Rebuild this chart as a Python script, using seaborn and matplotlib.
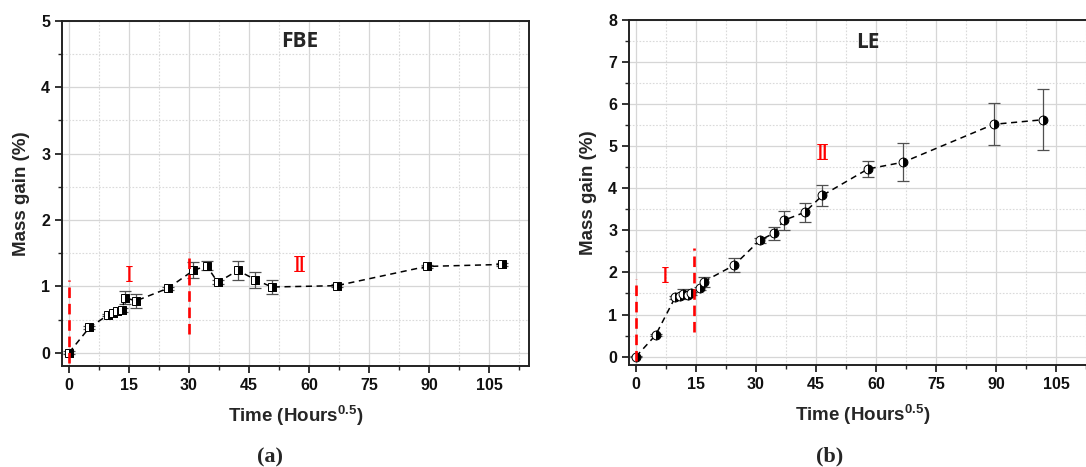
import numpy as np
import pandas as pd
import seaborn as sns
import matplotlib.pyplot as plt
from matplotlib.ticker import MultipleLocator

# FBE data (time in hours^0.5, mass gain in %)
fbe_time = [0, 5.1, 9.8, 11.1, 12.1, 13.2, 14.0, 16.7, 24.7, 31.1, 34.4, 37.2, 42.2, 46.6, 50.7, 66.9, 89.4, 108.3]
fbe_gain = [0, 0.38, 0.57, 0.60, 0.63, 0.64, 0.83, 0.78, 0.97, 1.24, 1.31, 1.06, 1.24, 1.10, 0.99, 1.01, 1.30, 1.33]
fbe_err = [0.02, 0.02, 0.02, 0.02, 0.02, 0.03, 0.10, 0.11, 0.02, 0.12, 0.07, 0.03, 0.14, 0.12, 0.10, 0.02, 0.02, 0.02]

# LE data
le_time = [0, 4.9, 9.8, 10.9, 11.8, 12.9, 13.8, 16.0, 16.9, 24.5, 30.9, 34.4, 37.0, 42.2, 46.6, 58.0, 66.8, 89.4, 101.8]
le_gain = [0, 0.51, 1.41, 1.44, 1.48, 1.46, 1.50, 1.62, 1.78, 2.17, 2.76, 2.93, 3.24, 3.43, 3.83, 4.46, 4.62, 5.52, 5.63]
le_err = [0.02, 0.03, 0.03, 0.03, 0.12, 0.03, 0.03, 0.04, 0.12, 0.17, 0.05, 0.15, 0.23, 0.22, 0.24, 0.20, 0.45, 0.50, 0.72]

x_ticks = [0, 15, 30, 45, 60, 75, 90, 105]

sns.set_style("ticks")
plt.rcParams['font.family'] = ['Liberation Sans', 'DejaVu Sans']
plt.rcParams['mathtext.fontset'] = 'custom'
plt.rcParams['mathtext.rm'] = 'Liberation Sans:bold'
plt.rcParams['mathtext.it'] = 'Liberation Sans:bold'
plt.rcParams['mathtext.bf'] = 'Liberation Sans:bold'

fig = plt.figure(figsize=(10.86, 4.67), dpi=100)
ax_a = fig.add_axes([0.0571, 0.2163, 0.430, 0.739])
ax_b = fig.add_axes([0.5792, 0.2184, 0.430, 0.7388])

df_a = pd.DataFrame({'time': fbe_time, 'gain': fbe_gain, 'err': fbe_err})
df_b = pd.DataFrame({'time': le_time, 'gain': le_gain, 'err': le_err})


def draw_panel(ax, df, marker, msize, ymax, title, tx, ty, vlines, romans, label, lx):
    # grid first so that data sits above it
    ax.set_axisbelow(True)
    ax.grid(which='major', color='#d6d6d6', lw=0.9, ls='-')
    ax.grid(which='minor', color='#dadada', lw=0.8, ls=(0, (1.5, 1.5)))

    ax.errorbar(df['time'], df['gain'], yerr=df['err'], fmt='none', ecolor='#505050',
                elinewidth=0.9, capsize=4.5, capthick=0.9, zorder=3)
    sns.lineplot(data=df, x='time', y='gain', ax=ax, color='black', lw=1.1,
                 dashes=False, linestyle=(0, (4, 3)), marker=marker, markersize=msize,
                 fillstyle='right', markerfacecolor='black', markerfacecoloralt='white',
                 markeredgecolor='black', markeredgewidth=0.7, zorder=4)

    for xv, y0, y1 in vlines:
        ax.plot([xv, xv], [y0, y1], color='red', lw=1.9, ls=(0, (4, 2.2)), zorder=5)
    for txt, xv, yv in romans:
        ax.text(xv, yv, txt, color='red', fontsize=16, ha='center', va='center',
                family=['DejaVu Serif', 'Noto Sans CJK SC'])

    ax.text(tx, ty, title, transform=ax.transAxes, ha='center', va='center',
            fontsize=15, fontweight='bold', family='Open Sans')

    ax.set_xlim(-1.75, 115)
    ax.set_ylim(-0.2, ymax)
    ax.set_xticks(x_ticks)
    ax.xaxis.set_minor_locator(MultipleLocator(7.5))
    ax.yaxis.set_major_locator(MultipleLocator(1))
    ax.yaxis.set_minor_locator(MultipleLocator(0.5))
    ax.tick_params(which='major', direction='out', length=5, width=1.2, labelsize=11.5,
                   top=False, right=False, colors='#111111')
    ax.tick_params(which='minor', direction='out', length=3, width=1.0, top=False, right=False)
    for t in ax.get_xticklabels() + ax.get_yticklabels():
        t.set_fontweight('bold')
    for s in ax.spines.values():
        s.set_linewidth(1.4)
        s.set_color('#222222')

    ax.set_xlabel(r'Time (Hours$^{0.5}$)', fontsize=13.5, fontweight='bold', labelpad=8)
    ax.set_ylabel('Mass gain (%)', fontsize=13.5, fontweight='bold', labelpad=8)
    ax.text(lx, -0.265, label, transform=ax.transAxes, ha='center', va='center',
            fontsize=16, fontweight='bold', family='Liberation Serif')


draw_panel(ax_a, df_a, 's', 6.0, 5, 'FBE', 0.51, 0.939,
           [(0, -0.15, 1.1), (30, 0.28, 1.52)],
           [('\u2160', 15.1, 1.15), ('\u2161', 57.7, 1.30)], '(a)', 0.445)
draw_panel(ax_b, df_b, 'o', 6.4, 8, 'LE', 0.512, 0.936,
           [(0, -0.1, 1.84), (14.5, 0.59, 2.59)],
           [('\u2160', 7.2, 1.9), ('\u2161', 46.5, 4.81)], '(b)', 0.43)

fig.savefig('out.png', dpi=100)
